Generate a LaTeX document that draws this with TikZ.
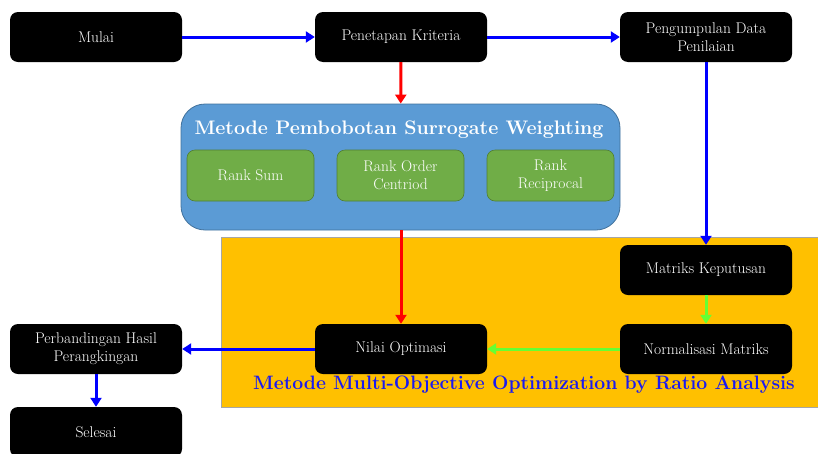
\documentclass[tikz,border=0pt]{standalone}
\usetikzlibrary{arrows.meta}
\definecolor{boxblue}{HTML}{5B9BD5}
\definecolor{boxblueb}{HTML}{41719C}
\definecolor{boxgreen}{HTML}{70AD47}
\definecolor{boxgreenb}{HTML}{507E32}
\definecolor{mooraorange}{HTML}{FFC000}
\definecolor{arrblue}{HTML}{0000FF}
\definecolor{arrred}{HTML}{FF0000}
\definecolor{arrgreen}{HTML}{66FF33}
\definecolor{titleblue}{HTML}{1A1AF0}
\begin{document}
\begin{tikzpicture}[x=1pt,y=-1pt,
  blk/.style={fill=black,rounded corners=8pt,minimum width=172pt,minimum height=50pt,
    text=white,align=center,font=\fontsize{15.5}{18}\selectfont,inner sep=2pt},
  grn/.style={fill=boxgreen,draw=boxgreenb,line width=0.6pt,rounded corners=8pt,minimum width=127pt,
    minimum height=51pt,text=white,align=center,font=\fontsize{15.5}{18}\selectfont,inner sep=2pt},
  arr/.style={line width=3pt,-{Triangle[length=9pt,width=11pt]}}]
\useasboundingbox (0,0) rectangle (818,453);
% orange MOORA region
\node[draw=gray!70,line width=0.6pt,fill=mooraorange,minimum width=597pt,minimum height=170pt,inner sep=0pt] (moora) at (519.5,322) {};
\node[font=\fontsize{19.4}{21}\selectfont\bfseries,text=titleblue,inner sep=0pt] (mooratitle) at (524,385) {Metode Multi-Objective Optimization by Ratio Analysis};
% blue weighting region
\node[fill=boxblue,draw=boxblueb,line width=0.8pt,rounded corners=24pt,minimum width=439pt,minimum height=126pt,inner sep=0pt] (wbox) at (400.5,167) {};
\node[font=\fontsize{19.6}{21}\selectfont\bfseries,text=white,inner sep=0pt] (wtitle) at (399,130) {Metode Pembobotan Surrogate Weighting};
\node[grn] (rs) at (250.5,175.5) {Rank Sum};
\node[grn] (roc) at (400.5,175.5) {Rank Order\\Centriod};
\node[grn] (rr) at (550.5,175.5) {Rank\\Reciprocal};
% black boxes
\node[blk] (mulai) at (96,37) {Mulai};
\node[blk] (pen) at (401,37) {Penetapan Kriteria};
\node[blk] (peng) at (706,37) {Pengumpulan Data\\Penilaian};
\node[blk] (mat) at (706,270) {Matriks Keputusan};
\node[blk] (norm) at (706,349) {Normalisasi Matriks};
\node[blk] (nilai) at (401,349) {Nilai Optimasi};
\node[blk] (banding) at (96,349) {Perbandingan Hasil\\Perangkingan};
\node[blk] (selesai) at (96,432) {Selesai};
% connectors
\draw[arr,arrblue] (mulai) -- (pen);
\draw[arr,arrblue] (pen) -- (peng);
\draw[arr,arrred] (pen) -- (wbox);
\draw[arr,arrblue] (peng) -- (mat);
\draw[arr,arrred] (wbox.south -| nilai) -- (nilai);
\draw[arr,arrgreen] (mat) -- (norm);
\draw[arr,arrgreen] (norm) -- (nilai);
\draw[arr,arrblue] (nilai) -- (banding);
\draw[arr,arrblue] (banding) -- (selesai);
\end{tikzpicture}
\end{document}
